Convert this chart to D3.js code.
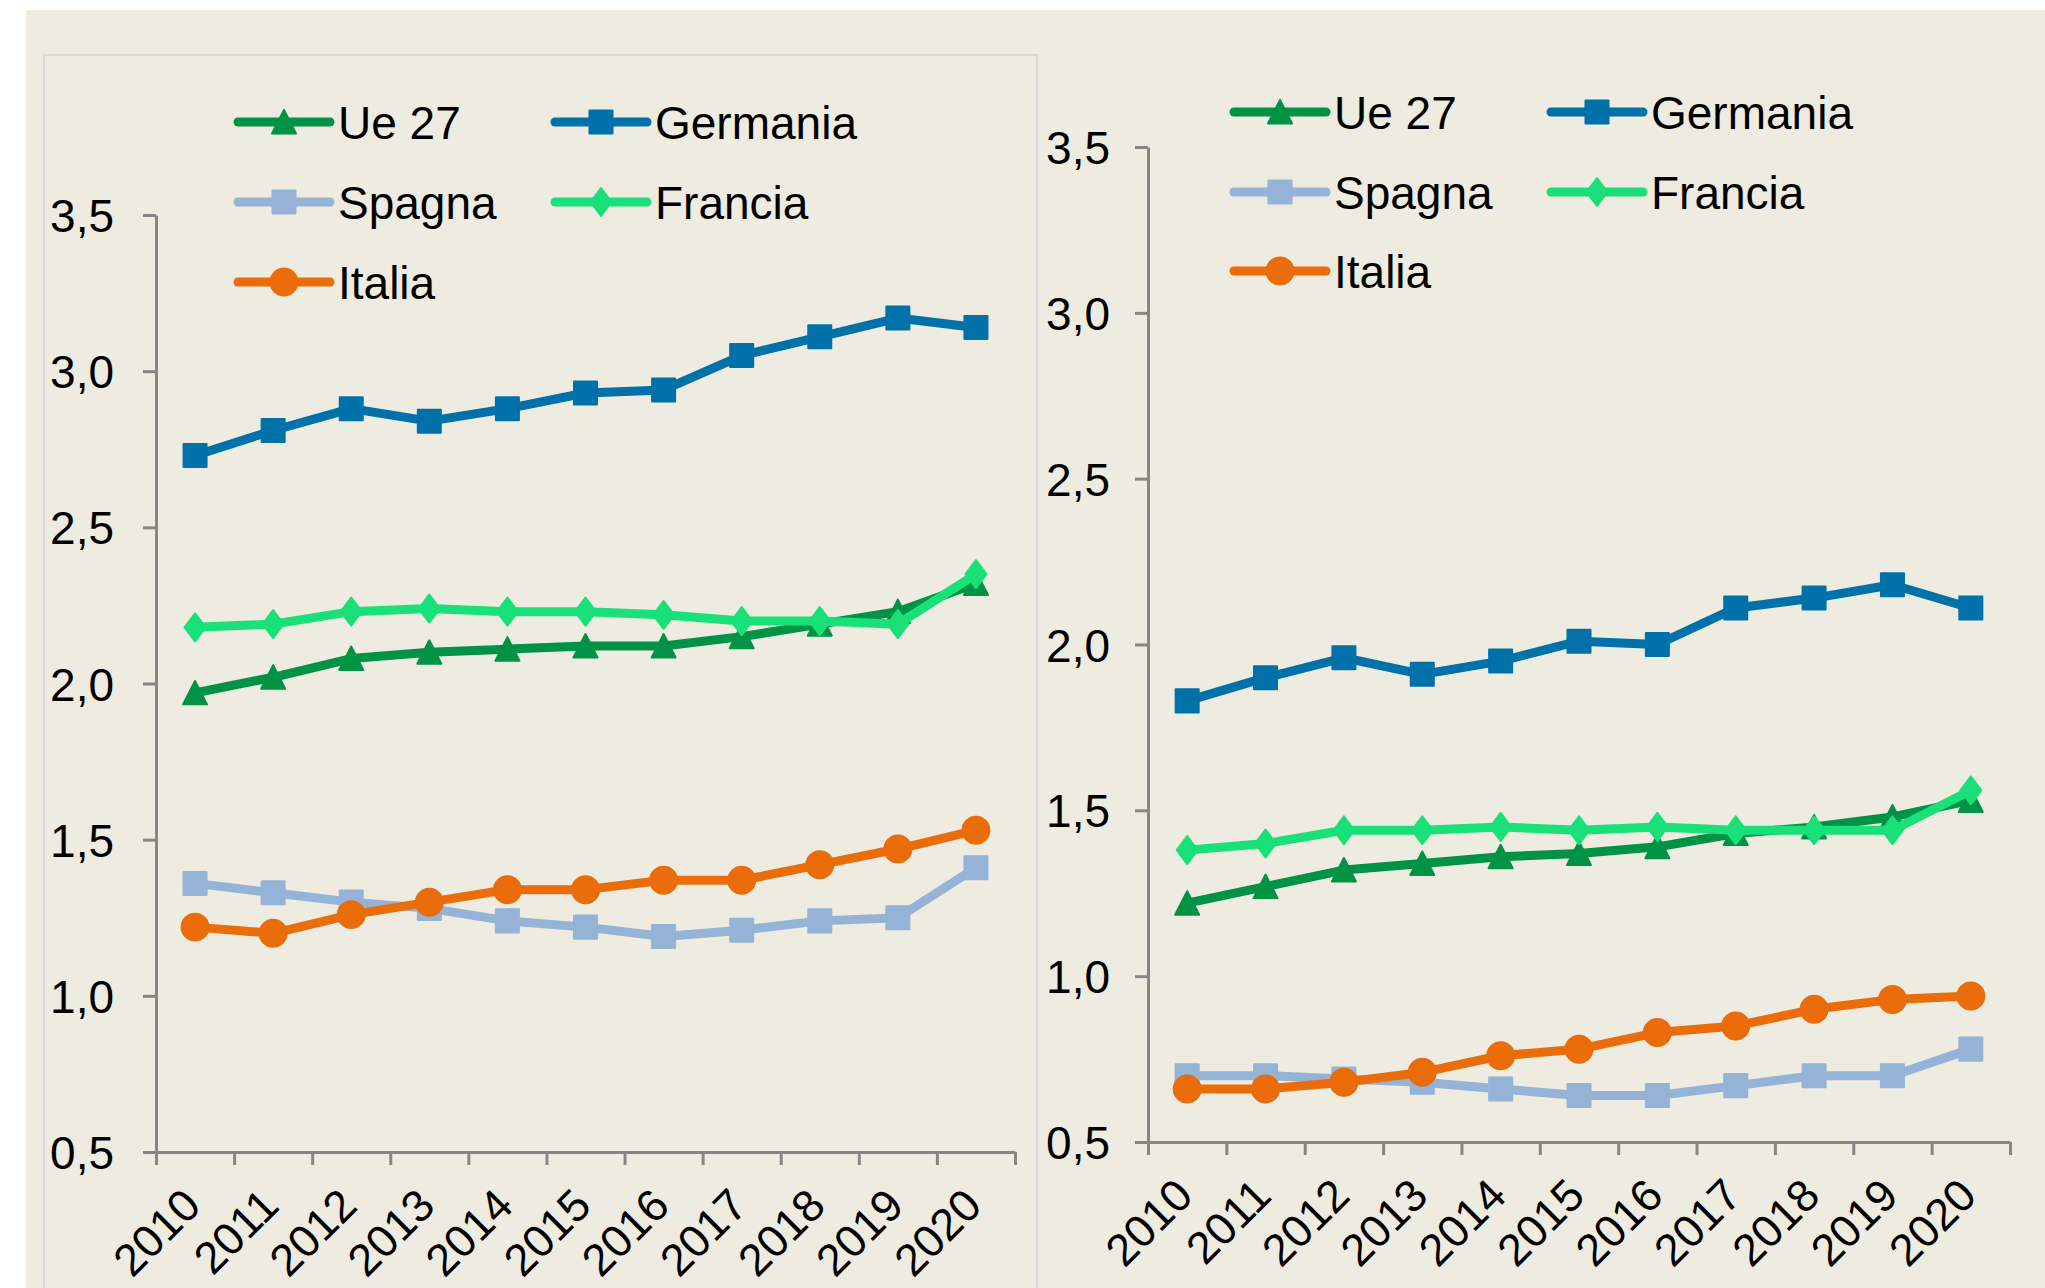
<!DOCTYPE html>
<html lang="it">
<head>
<meta charset="UTF-8">
<title>Ue 27, Germania, Spagna, Francia, Italia</title>
<script src="https://d3js.org/d3.v7.min.js"></script>
<style>
  body { margin: 0; background: #fff; }
  svg { display: block; }
  text { font-family: "Liberation Sans", Arial, sans-serif; fill: #000; }
  .axis path, .axis line { stroke: #868686; stroke-width: 3; }
</style>
</head>
<body>
<script>
// years on the x axis
var years = ["2010","2011","2012","2013","2014","2015","2016","2017","2018","2019","2020"];
var seriesNames = ["Ue 27","Germania","Spagna","Francia","Italia"];
var yTicks = [0.5, 1.0, 1.5, 2.0, 2.5, 3.0, 3.5];

// left chart values
var leftUe27     = [1.97, 2.02, 2.08, 2.10, 2.11, 2.12, 2.12, 2.15, 2.19, 2.23, 2.32];
var leftGermania = [2.73, 2.81, 2.88, 2.84, 2.88, 2.93, 2.94, 3.05, 3.11, 3.17, 3.14];
var leftSpagna   = [1.36, 1.33, 1.30, 1.28, 1.24, 1.22, 1.19, 1.21, 1.24, 1.25, 1.41];
var leftFrancia  = [2.18, 2.19, 2.23, 2.24, 2.23, 2.23, 2.22, 2.20, 2.20, 2.19, 2.35];
var leftItalia   = [1.22, 1.20, 1.26, 1.30, 1.34, 1.34, 1.37, 1.37, 1.42, 1.47, 1.53];

// right chart values
var rightUe27     = [1.22, 1.27, 1.32, 1.34, 1.36, 1.37, 1.39, 1.43, 1.45, 1.48, 1.53];
var rightGermania = [1.83, 1.90, 1.96, 1.91, 1.95, 2.01, 2.00, 2.11, 2.14, 2.18, 2.11];
var rightSpagna   = [0.70, 0.70, 0.69, 0.68, 0.66, 0.64, 0.64, 0.67, 0.70, 0.70, 0.78];
var rightFrancia  = [1.38, 1.40, 1.44, 1.44, 1.45, 1.44, 1.45, 1.44, 1.44, 1.44, 1.56];
var rightItalia   = [0.66, 0.66, 0.68, 0.71, 0.76, 0.78, 0.83, 0.85, 0.90, 0.93, 0.94];

var colors = ["#009245", "#0071a9", "#95b3d7", "#19e078", "#ea6c0a"];
var markers = ["triangle", "square", "square", "diamond", "circle"];

var W = 2045, H = 1288;
var svg = d3.select("body").append("svg").attr("width", W).attr("height", H);
svg.append("rect").attr("width", W).attr("height", H).attr("fill", "#fff");
svg.append("rect").attr("x", 26).attr("y", 10).attr("width", W - 26).attr("height", H - 10).attr("fill", "#eeebe0");
// border of the left panel
svg.append("rect").attr("x", 44).attr("y", 55).attr("width", 993).attr("height", H)
  .attr("fill", "none").attr("stroke", "#d8d8d8").attr("stroke-width", 2);

function markerPath(kind) {
  if (kind == "triangle") return "M0,-12L12,11.5L-12,11.5Z";
  if (kind == "square") return d3.symbol(d3.symbolSquare, 530)();
  if (kind == "circle") return d3.symbol(d3.symbolCircle, 572)();
  return "M0,-14L10.5,0L0,14L-10.5,0Z";
}

function drawChart(cfg, values) {
  var x = d3.scaleBand().domain(years).range([cfg.x0, cfg.x1]);
  var xb = d3.scaleLinear().domain([0, years.length]).range([cfg.x0, cfg.x1]);
  var y = d3.scaleLinear().domain([0.5, 3.5]).range([cfg.yBot, cfg.yTop]);
  var g = svg.append("g");

  // y axis
  var ya = g.append("g").attr("class", "axis").attr("transform", "translate(" + cfg.x0 + ",0)")
    .call(d3.axisLeft(y).tickValues(yTicks).tickSize(13).tickSizeOuter(0)
      .tickFormat(function(d){ return d3.format(".1f")(d).replace(".", ","); }));
  ya.selectAll("text").attr("font-size", 46).attr("x", -cfg.labGap).attr("dy", "0.36em")
    .attr("font-family", "Liberation Sans, Arial, sans-serif").attr("fill", "#000");

  // x axis: boundary ticks
  g.append("g").attr("class", "axis").attr("transform", "translate(0," + cfg.yBot + ")")
    .call(d3.axisBottom(xb).tickValues(d3.range(years.length + 1)).tickSize(13).tickSizeOuter(0).tickFormat(""));
  // x axis labels
  var xa = g.append("g").attr("transform", "translate(0," + cfg.yBot + ")")
    .call(d3.axisBottom(x).tickSize(0));
  xa.select(".domain").remove();
  xa.selectAll("text").attr("font-size", 45).attr("text-anchor", "end")
    .attr("font-family", "Liberation Sans, Arial, sans-serif").attr("fill", "#000")
    .attr("x", 0).attr("y", 0).attr("dy", 0)
    .attr("transform", "translate(8,56) rotate(-45)");

  var line = d3.line().x(function(d, i){ return x(years[i]) + x.bandwidth() / 2; }).y(function(d){ return y(d); });

  values.forEach(function(vals, s) {
    g.append("path").datum(vals).attr("d", line).attr("fill", "none")
      .attr("stroke", colors[s]).attr("stroke-width", 9).attr("stroke-linejoin", "round").attr("stroke-linecap", "round");
    g.selectAll(".m" + s).data(vals).enter().append("path")
      .attr("d", markerPath(markers[s]))
      .attr("transform", function(d, i){ return "translate(" + (x(years[i]) + x.bandwidth() / 2) + "," + y(d) + ")"; })
      .attr("fill", colors[s]).attr("stroke", colors[s]).attr("stroke-width", 2).attr("stroke-linejoin", "round");
  });

  // legend
  seriesNames.forEach(function(name, s) {
    var lx = cfg.legCols[s % 2], ly = cfg.legRows[Math.floor(s / 2)];
    var lg = g.append("g").attr("transform", "translate(" + lx + "," + ly + ")");
    lg.append("line").attr("x1", 4).attr("x2", 96).attr("y1", 0).attr("y2", 0)
      .attr("stroke", colors[s]).attr("stroke-width", 9).attr("stroke-linecap", "round");
    lg.append("path").attr("d", markerPath(markers[s])).attr("transform", "translate(50,0)")
      .attr("fill", colors[s]).attr("stroke", colors[s]).attr("stroke-width", 2).attr("stroke-linejoin", "round");
    lg.append("text").attr("x", 104).attr("dy", "0.36em").attr("font-size", 46).text(name);
  });
}

drawChart({x0: 156, x1: 1015, yTop: 215, yBot: 1152, labGap: 42, legCols: [234, 551], legRows: [122, 202, 282]},
  [leftUe27, leftGermania, leftSpagna, leftFrancia, leftItalia]);
drawChart({x0: 1148, x1: 2010, yTop: 147, yBot: 1142, labGap: 38, legCols: [1230, 1547], legRows: [112, 192, 271]},
  [rightUe27, rightGermania, rightSpagna, rightFrancia, rightItalia]);
</script>
</body>
</html>
